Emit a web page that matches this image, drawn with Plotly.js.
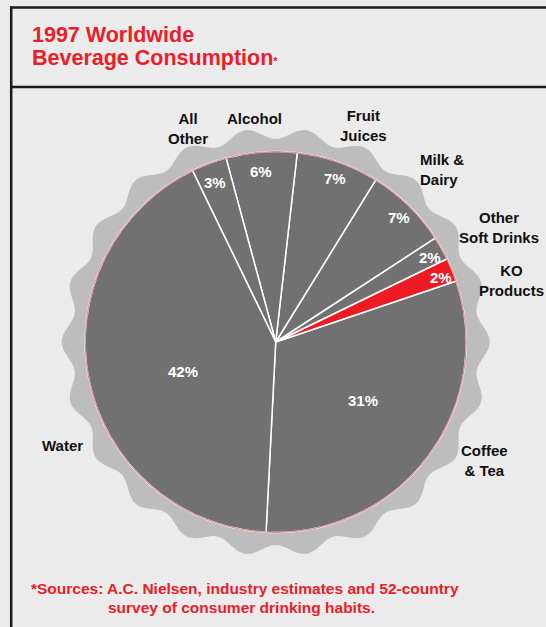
<!DOCTYPE html>
<html>
<head>
<meta charset="utf-8">
<script src="https://cdn.plot.ly/plotly-3.0.1.min.js"></script>
<style>
html,body{margin:0;padding:0;background:#ebebeb;}
#chart{width:546px;height:627px;}
</style>
</head>
<body>
<div id="chart"></div>
<script>
// ---- data ----
var categories = ['Coffee & Tea', 'KO Products', 'Other Soft Drinks', 'Milk & Dairy', 'Fruit Juices', 'Alcohol', 'All Other', 'Water'];
var shares = [31, 2, 2, 7, 7, 6, 3, 42];
var categoryLabels = ['Coffee<br>& Tea', 'KO<br>Products', 'Other<br>Soft Drinks', 'Milk &<br>Dairy', 'Fruit<br>Juices', 'Alcohol', 'All<br>Other', 'Water'];
var titleLines = ['1997 Worldwide', 'Beverage Consumption'];
var footnoteLines = ['*Sources: A.C. Nielsen, industry estimates and 52-country', 'survey of consumer drinking habits.'];

// ---- geometry / styles ----
var W = 546, H = 627;
var CX = 275.7, CY = 342, R = 190.5;
var GRAY = '#717171', RED = '#ed1c24', TRED = '#e8202a';
var sliceColors = categories.map(function (c) { return c === 'KO Products' ? RED : GRAY; });
function px(x) { return x / W; }
function py(y) { return 1 - y / H; }

// label positions (pixel centres)
var catPos = [[484, 460.5, 'center'], [511, 280.5, 'center'], [499, 227, 'center'], [418, 170, 'left'], [363, 125, 'center'], [254, 118.5, 'center'], [188, 128.7, 'center'], [62, 445, 'center']];
var pctPos = [[362.5, 400], [441, 278], [430, 258], [398.5, 217.5], [334.5, 178.5], [260.5, 171.5], [215, 182.5], [182.5, 371]];

// bottle cap outline
var N = 22, rMid = 208.5, amp = 5.5;
var capPath = '';
for (var d = 0; d <= 360; d += 1) {
  var a = d * Math.PI / 180;
  var r = rMid + amp * Math.cos(N * a);
  var x = CX + r * Math.cos(a), y = CY - r * Math.sin(a);
  capPath += (d === 0 ? 'M' : 'L') + px(x).toFixed(5) + ',' + py(y).toFixed(5);
}
capPath += 'Z';

var FONT = 'Liberation Sans, Arial, sans-serif';
var annotations = [];
categories.forEach(function (c, i) {
  var p = catPos[i];
  annotations.push({
    xref: 'paper', yref: 'paper', x: px(p[0]), y: py(p[1]),
    xanchor: p[2], yanchor: 'middle', align: p[2], showarrow: false,
    text: '<b>' + categoryLabels[i] + '</b>',
    font: {family: FONT, size: 15, color: '#111111'}
  });
  var q = pctPos[i];
  annotations.push({
    xref: 'paper', yref: 'paper', x: px(q[0]), y: py(q[1]),
    xanchor: 'center', yanchor: 'middle', showarrow: false,
    text: '<b>' + shares[i] + '%</b>',
    font: {family: FONT, size: 15, color: '#ffffff'}
  });
});
annotations.push({xref: 'paper', yref: 'paper', x: px(30), y: py(35), xanchor: 'left', yanchor: 'middle', showarrow: false,
  text: '<b>' + titleLines[0] + '</b>', font: {family: FONT, size: 21.5, color: TRED}});
annotations.push({xref: 'paper', yref: 'paper', x: px(30), y: py(58), xanchor: 'left', yanchor: 'middle', showarrow: false,
  text: '<b>' + titleLines[1] + '<span style="font-size:11px">*</span></b>', font: {family: FONT, size: 21.5, color: TRED}});
annotations.push({xref: 'paper', yref: 'paper', x: px(29), y: py(588), xanchor: 'left', yanchor: 'middle', showarrow: false,
  text: '<b>' + footnoteLines[0] + '</b>', font: {family: FONT, size: 15.5, color: TRED}});
annotations.push({xref: 'paper', yref: 'paper', x: px(106), y: py(607.5), xanchor: 'left', yanchor: 'middle', showarrow: false,
  text: '<b>' + footnoteLines[1] + '</b>', font: {family: FONT, size: 15.5, color: TRED}});

var shapes = [
  {type: 'path', xref: 'paper', yref: 'paper', path: capPath, fillcolor: '#bdbdbd', line: {width: 0}, layer: 'below'},
  {type: 'circle', xref: 'paper', yref: 'paper', x0: px(CX - R), x1: px(CX + R), y0: py(CY + R), y1: py(CY - R),
    line: {color: 'rgba(215,90,95,0.75)', width: 1}, fillcolor: 'rgba(0,0,0,0)', layer: 'above'},
  {type: 'line', xref: 'paper', yref: 'paper', x0: px(10), x1: px(546), y0: py(7.5), y1: py(7.5), line: {color: '#1a1a1a', width: 2.5}, layer: 'above'},
  {type: 'line', xref: 'paper', yref: 'paper', x0: px(10), x1: px(546), y0: py(87), y1: py(87), line: {color: '#1a1a1a', width: 2.5}, layer: 'above'},
  {type: 'line', xref: 'paper', yref: 'paper', x0: px(11.2), x1: px(11.2), y0: py(6.5), y1: py(627), line: {color: '#1a1a1a', width: 2.5}, layer: 'above'}
];

var trace = {
  type: 'pie',
  labels: categories,
  values: shares,
  sort: false,
  direction: 'counterclockwise',
  rotation: 71.3,
  textinfo: 'none',
  hoverinfo: 'none',
  marker: {colors: sliceColors, line: {color: '#ffffff', width: 1.5}},
  domain: {x: [px(CX - R), px(CX + R)], y: [py(CY + R), py(CY - R)]},
  showlegend: false
};

var layout = {
  width: W, height: H,
  margin: {l: 0, r: 0, t: 0, b: 0},
  paper_bgcolor: '#ebebeb',
  plot_bgcolor: '#ebebeb',
  showlegend: false,
  shapes: shapes,
  annotations: annotations
};

Plotly.newPlot('chart', [trace], layout, {staticPlot: true, displayModeBar: false});
</script>
</body>
</html>
